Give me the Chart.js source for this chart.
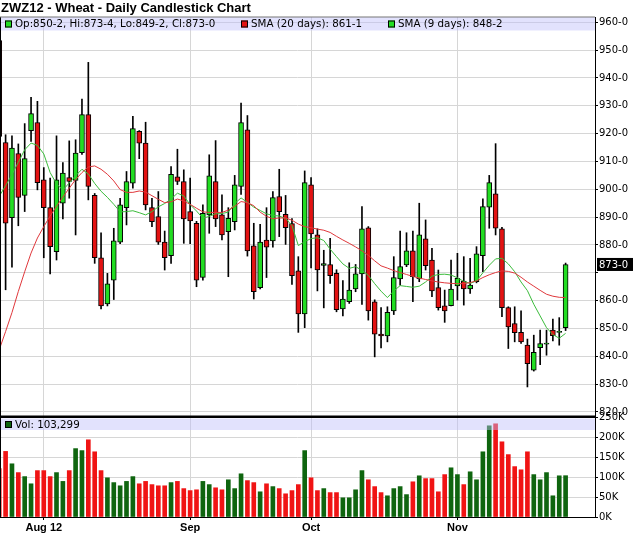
<!DOCTYPE html>
<html>
<head>
<meta charset="utf-8">
<script src="https://cdn.jsdelivr.net/npm/chart.js@4.4.1/dist/chart.umd.min.js"></script>
<style>
  html, body { margin: 0; padding: 0; background: #fff; }
  #wrap { position: relative; width: 640px; height: 536px; }
</style>
</head>
<body>
<div id="wrap"><canvas id="chart" width="640" height="536"></canvas></div>
<script>
// ZWZ12 daily bars, index 0 = first (half cut) bar
var opens = [953.4, 916.8, 889.8, 912.8, 897.8, 921.1, 924.0, 903.4, 893.4, 877.6,
  895.0, 904.2, 903.2, 913.2, 926.8, 897.8, 875.4, 858.8, 867.4, 881.0,
  893.4, 902.2, 920.8, 916.6, 893.4, 890.2, 881.0, 876.2, 904.5, 902.8,
  892.0, 887.8, 868.3, 890.8, 902.8, 890.8, 884.8, 888.4, 901.0, 921.4,
  879.7, 864.7, 881.8, 881.5, 897.4, 891.0, 887.7, 870.7, 855.2, 901.6,
  883.6, 872.7, 873.0, 869.8, 857.0, 859.6, 864.2, 869.6, 886.2, 859.6,
  848.0, 847.3, 856.3, 867.8, 872.8, 877.9, 867.8, 882.2, 874.6, 864.7,
  858.1, 858.2, 865.3, 867.0, 864.2, 866.8, 876.2, 893.6, 898.4, 885.8,
  857.5, 851.8, 848.6, 844.0, 835.0, 843.1, 844.4, 849.4, 848.6, 850.25];
var highs = [955.0, 919.6, 919.2, 916.3, 923.6, 933.0, 931.6, 907.8, 904.0, 919.2,
  909.6, 917.4, 917.8, 932.4, 945.6, 898.5, 884.4, 869.8, 886.0, 896.8,
  906.4, 926.2, 921.1, 924.1, 896.8, 899.2, 885.0, 908.2, 914.4, 907.0,
  904.0, 888.5, 894.4, 912.4, 917.5, 898.0, 893.4, 905.0, 931.0, 926.5,
  887.8, 887.4, 893.4, 899.2, 907.2, 897.8, 889.5, 875.8, 906.6, 904.2,
  885.8, 878.1, 882.4, 871.1, 867.2, 873.6, 873.0, 893.8, 886.6, 860.3,
  857.5, 857.8, 875.8, 885.0, 884.4, 885.0, 895.0, 889.0, 878.8, 871.0,
  863.8, 874.6, 877.0, 875.8, 875.2, 879.4, 896.6, 905.0, 916.4, 886.3,
  857.8, 857.8, 856.3, 846.2, 847.6, 849.4, 849.4, 853.4, 853.9, 873.5];
var lows = [917.0, 863.9, 872.0, 886.9, 892.0, 917.2, 899.8, 875.4, 869.6, 874.6,
  889.4, 896.8, 883.6, 912.5, 896.2, 873.4, 857.0, 858.1, 860.4, 880.5,
  887.2, 900.4, 911.0, 892.6, 886.6, 880.2, 871.0, 873.4, 901.7, 880.6,
  880.5, 865.0, 867.4, 884.2, 886.6, 881.8, 868.6, 885.4, 898.2, 876.0,
  860.6, 864.2, 868.3, 879.2, 883.0, 880.2, 865.8, 848.6, 850.3, 871.8,
  863.5, 857.4, 866.2, 856.0, 854.5, 859.0, 863.2, 858.6, 853.0, 839.8,
  843.0, 845.2, 855.0, 865.6, 872.2, 859.6, 866.8, 871.0, 861.4, 856.6,
  852.2, 858.1, 860.2, 858.4, 862.6, 866.4, 870.4, 886.0, 883.6, 854.2,
  842.8, 845.2, 844.6, 829.0, 834.7, 837.0, 840.4, 845.5, 844.0, 849.25];
var closes = [919.0, 887.8, 914.8, 897.1, 911.0, 927.2, 902.4, 893.4, 879.4, 903.4,
  905.8, 902.8, 913.0, 926.8, 901.0, 875.4, 858.1, 866.0, 881.5, 894.4,
  902.8, 921.8, 916.6, 894.4, 888.4, 881.0, 875.4, 905.4, 902.8, 889.4,
  888.6, 867.4, 891.4, 904.8, 889.4, 883.6, 889.6, 901.6, 924.0, 877.9,
  863.2, 881.0, 879.2, 897.0, 892.0, 886.2, 869.0, 855.2, 902.4, 884.0,
  871.0, 873.3, 869.0, 856.8, 860.6, 863.8, 869.6, 885.8, 856.3, 848.0,
  847.3, 855.8, 868.3, 872.2, 877.9, 868.6, 883.6, 872.6, 863.5, 857.5,
  856.3, 864.2, 868.0, 864.2, 865.6, 876.8, 893.8, 902.4, 886.0, 857.5,
  850.6, 848.5, 845.2, 837.4, 841.4, 844.6, 844.8, 847.4, 849.0, 873.0];
// volume in thousands
var volK = [121, 164, 133, 111, 101, 83, 116, 116, 101, 111,
  89, 116, 171, 166, 193, 163, 116, 98, 86, 78,
  89, 101, 83, 89, 81, 78, 78, 86, 89, 71,
  66, 68, 89, 81, 73, 68, 93, 71, 108, 91,
  86, 63, 83, 76, 71, 58, 66, 81, 166, 98,
  66, 71, 61, 61, 48, 48, 68, 116, 93, 76,
  61, 53, 71, 76, 56, 88, 103, 96, 96, 63,
  106, 123, 106, 81, 113, 93, 163, 228, 233, 188,
  156, 126, 118, 163, 106, 93, 111, 53, 103, 103.299];
var sma20 = [842.4, 848.9, 855.7, 863.3, 870.4, 877.1, 882.5, 886.6, 890.4, 893.9,
  897.2, 900.4, 903.5, 906.0, 908.0, 908.4, 907.2, 905.4, 903.0, 899.9,
  898.9, 898.9, 899.4, 899.0, 897.7, 896.4, 895.2, 895.5, 896.5, 895.8,
  894.6, 893.2, 891.9, 891.7, 891.7, 891.7, 892.5, 893.9, 895.6, 895.2,
  894.1, 891.8, 890.3, 889.4, 889.7, 889.7, 888.9, 887.5, 886.6, 886.2,
  885.7, 885.3, 884.5, 883.1, 881.8, 880.6, 879.3, 877.9, 876.3, 874.3,
  872.5, 871.7, 870.8, 870.1, 869.4, 868.7, 868.1, 867.6, 867.1, 866.7,
  866.4, 866.2, 866.1, 866.1, 866.5, 867.1, 868.3, 869.3, 870.1, 870.7,
  870.5, 869.9, 868.4, 866.7, 865.2, 863.7, 862.3, 861.6, 861.2, 861.1];
var sma9 = [897.5, 901.3, 905.3, 909.7, 914.2, 916.6, 915.8, 912.7, 906.0, 902.0,
  899.7, 902.3, 904.9, 907.2, 905.5, 902.1, 899.3, 897.1, 894.6, 891.9,
  892.0, 892.3, 891.6, 890.8, 892.0, 893.7, 894.9, 896.5, 898.6, 897.6,
  894.5, 892.2, 889.6, 890.3, 891.2, 891.3, 891.8, 894.9, 896.9, 895.3,
  893.6, 892.4, 891.2, 890.6, 890.4, 889.5, 887.0, 879.8, 881.2, 882.3,
  882.6, 881.6, 878.5, 875.8, 873.2, 871.6, 872.2, 870.9, 869.1, 866.1,
  863.4, 861.1, 863.5, 865.4, 865.1, 864.8, 865.2, 866.7, 868.8, 869.4,
  869.5, 869.2, 868.2, 866.9, 866.2, 867.1, 870.0, 872.7, 875.0, 875.2,
  873.2, 870.4, 866.7, 863.6, 858.7, 854.5, 850.3, 847.8, 846.5, 848.25];

var monthIdx = [7, 30, 49, 72];
var monthLabels = ["Aug 12", "Sep", "Oct", "Nov"];
var priceTicks = [820, 830, 840, 850, 860, 870, 880, 890, 900, 910, 920, 930, 940, 950, 960];
var volTicks = [0, 50, 100, 150, 200, 250];

var titleText = "ZWZ12 - Wheat - Daily Candlestick Chart";
var ohlcText = "Op:850-2, Hi:873-4, Lo:849-2, Cl:873-0";
var sma20Text = "SMA (20 days): 861-1";
var sma9Text = "SMA (9 days): 848-2";
var volText = "Vol: 103,299";
var lastCloseText = "873-0";

var upColor = "#22dd22";
var downColor = "#e31212";
var volUp = "#0f650f";
var volDown = "#f01414";
var gridColor = "#d6d6d6";

var bodyColors = closes.map(function (c, i) { return c >= opens[i] ? upColor : downColor; });
// volume colour follows close vs previous close
var volColors = closes.map(function (c, i) { return i > 0 && c > closes[i - 1] ? volUp : volDown; });

function pts(arr) {
  return arr.map(function (v, i) { return { x: i, y: v }; });
}

var deco = {
  id: "deco",
  beforeDraw: function (chart) {
    var ctx = chart.ctx;
    ctx.save();
    ctx.fillStyle = "#fff";
    ctx.fillRect(0, 0, chart.width, chart.height);
    ctx.restore();
  },
  afterDraw: function (chart) {
    var ctx = chart.ctx;
    var a = chart.chartArea;
    var ys = chart.scales.y;
    var yv = chart.scales.yv;
    ctx.save();

    // legend bands, see-through so tall volume bars show through
    ctx.fillStyle = "rgba(190,190,250,0.45)";
    ctx.fillRect(a.left, ys.top, a.right - a.left, 13.5);
    ctx.fillRect(a.left, yv.top + 1.5, a.right - a.left, 11.5);

    // frame
    ctx.fillStyle = "#000";
    ctx.fillRect(a.left, ys.bottom - 1.5, a.right - a.left, 2.5);
    ctx.fillRect(a.left, a.top, 1, a.bottom - a.top);
    ctx.fillStyle = "#777";
    ctx.fillRect(a.left, a.top - 0.5, a.right - a.left, 1);

    // title
    ctx.fillStyle = "#000";
    ctx.textBaseline = "alphabetic";
    ctx.font = "bold 13px 'Liberation Sans', Arial, sans-serif";
    ctx.fillText(titleText, 1, 12);

    // legends
    ctx.font = "10.3px 'DejaVu Sans', sans-serif";
    ctx.textBaseline = "middle";
    var ly = ys.top + 7;
    var items = [[5, upColor, ohlcText], [241, downColor, sma20Text], [388, upColor, sma9Text]];
    items.forEach(function (it) {
      ctx.fillStyle = it[1];
      ctx.fillRect(it[0], ly - 3.5, 7, 7);
      ctx.strokeStyle = "#000";
      ctx.lineWidth = 1;
      ctx.strokeRect(it[0] + 0.5, ly - 3, 6, 6);
      ctx.fillStyle = "#000";
      ctx.fillText(it[2], it[0] + 10, ly + 0.5);
    });
    var vy = yv.top + 7.5;
    ctx.fillStyle = volUp;
    ctx.fillRect(5, vy - 3.5, 7, 7);
    ctx.strokeStyle = "#000";
    ctx.strokeRect(5.5, vy - 3, 6, 6);
    ctx.fillStyle = "#000";
    ctx.fillText(volText, 15, vy + 0.5);

    // last close marker on the price axis
    var cy = ys.getPixelForValue(closes[closes.length - 1]);
    ctx.font = "10px 'DejaVu Sans', sans-serif";
    ctx.fillStyle = "#000";
    ctx.fillRect(a.right + 2, cy - 6.5, 36, 13);
    ctx.fillStyle = "#fff";
    ctx.fillText(lastCloseText, a.right + 4, cy + 0.5);
    ctx.restore();
  }
};

var ctx = document.getElementById("chart").getContext("2d");
var chart = new Chart(ctx, {
  type: "bar",
  data: {
    datasets: [
      {
        type: "line", label: "SMA 20", yAxisID: "y", data: pts(sma20),
        borderColor: "#e0383c", borderWidth: 1, pointRadius: 0, tension: 0, order: 0
      },
      {
        type: "line", label: "SMA 9", yAxisID: "y", data: pts(sma9),
        borderColor: "#3cbc3c", borderWidth: 1, pointRadius: 0, tension: 0, order: 0
      },
      {
        label: "body", yAxisID: "y",
        data: opens.map(function (o, i) { return { x: i, y: [o, closes[i]] }; }),
        backgroundColor: bodyColors, borderColor: "#000", borderWidth: 1,
        borderSkipped: false, barThickness: 5, grouped: false, order: 1
      },
      {
        label: "wick", yAxisID: "y",
        data: lows.map(function (l, i) { return { x: i, y: [l, highs[i]] }; }),
        backgroundColor: "#000", borderWidth: 0, barThickness: 1, grouped: false, order: 2
      },
      {
        label: "Vol", yAxisID: "yv", data: pts(volK),
        backgroundColor: volColors, borderWidth: 0, barThickness: 4, grouped: false, order: 3
      }
    ]
  },
  options: {
    responsive: false,
    animation: false,
    events: [],
    layout: { padding: { top: 17, left: 0, right: 0, bottom: 0 } },
    plugins: { legend: { display: false }, tooltip: { enabled: false }, title: { display: false } },
    scales: {
      x: {
        type: "linear", min: 0.12, max: 93.62, offset: false,
        afterBuildTicks: function (s) { s.ticks = monthIdx.map(function (v) { return { value: v }; }); },
        afterFit: function (s) { s.height = 19; },
        grid: { color: gridColor, offset: false, tickColor: "#000", tickLength: 3 },
        border: { color: "#000" },
        ticks: {
          autoSkip: false, maxRotation: 0, padding: 1, color: "#000",
          font: { family: "'Liberation Sans', Arial, sans-serif", size: 11, weight: "bold" },
          callback: function (v) { return monthLabels[monthIdx.indexOf(v)]; }
        }
      },
      y: {
        type: "linear", position: "right", stack: "panes", stackWeight: 4,
        min: 818.2, max: 961.9,
        afterBuildTicks: function (s) { s.ticks = priceTicks.map(function (v) { return { value: v }; }); },
        afterFit: function (s) { s.width = 45; },
        grid: { color: gridColor, tickColor: "#000", tickLength: 3 },
        border: { color: "#000" },
        ticks: {
          autoSkip: false, padding: 1, color: "#000",
          font: { family: "'DejaVu Sans', sans-serif", size: 10 },
          callback: function (v) { return v === 870 ? "" : v + "-0"; }
        }
      },
      yv: {
        type: "linear", position: "right", stack: "panes", stackWeight: 1,
        min: 0, max: 250,
        afterBuildTicks: function (s) { s.ticks = volTicks.map(function (v) { return { value: v }; }); },
        afterFit: function (s) { s.width = 45; },
        grid: { color: gridColor, tickColor: "#000", tickLength: 3 },
        border: { color: "#000" },
        ticks: {
          autoSkip: false, padding: 1, color: "#000",
          font: { family: "'DejaVu Sans', sans-serif", size: 10 },
          callback: function (v) { return v + "K"; }
        }
      }
    }
  },
  plugins: [deco]
});
</script>
</body>
</html>
